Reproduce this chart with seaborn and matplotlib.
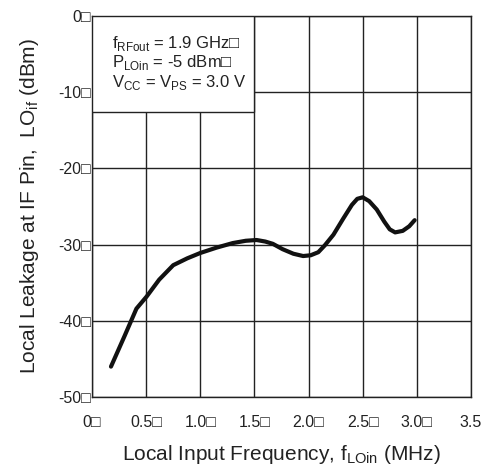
import pandas as pd
import matplotlib.pyplot as plt
import seaborn as sns
from matplotlib.patches import Rectangle

# LO leakage at IF pin vs local input frequency
freq = [0.175, 0.30, 0.41, 0.505, 0.62, 0.75, 0.88, 1.0, 1.15, 1.3, 1.42, 1.52,
        1.6, 1.67, 1.76, 1.86, 1.95, 2.02, 2.09, 2.15, 2.23, 2.32, 2.40, 2.45,
        2.50, 2.56, 2.63, 2.70, 2.75, 2.80, 2.87, 2.93, 2.98]
leak = [-46.0, -42.0, -38.4, -36.8, -34.6, -32.7, -31.8, -31.1, -30.4, -29.8, -29.5, -29.4,
        -29.6, -29.9, -30.6, -31.2, -31.5, -31.4, -31.0, -30.1, -28.7, -26.6, -24.8, -24.0,
        -23.8, -24.3, -25.4, -27.0, -28.0, -28.4, -28.2, -27.6, -26.8]

BOX = "\u25a1"
xticks = [0, 0.5, 1.0, 1.5, 2.0, 2.5, 3.0, 3.5]
xticklabels = ["0" + BOX, "0.5" + BOX, "1.0" + BOX, "1.5" + BOX, "2.0" + BOX,
               "2.5" + BOX, "3.0" + BOX, "3.5"]
yticks = [0, -10, -20, -30, -40, -50]
yticklabels = [str(v) + BOX for v in yticks]

conditions = [r"f$_\mathregular{RFout}$ = 1.9 GHz" + BOX,
              r"P$_\mathregular{LOin}$ = -5 dBm" + BOX,
              r"V$_\mathregular{CC}$ = V$_\mathregular{PS}$ = 3.0 V"]


def main():
    df = pd.DataFrame({"freq": freq, "leak": leak})

    sns.set_theme(style="white")
    plt.rcParams["font.family"] = ["Liberation Sans", "DejaVu Sans"]
    plt.rcParams["mathtext.fontset"] = "custom"
    plt.rcParams["mathtext.rm"] = "Liberation Sans"

    fig = plt.figure(figsize=(4.87, 4.65), dpi=100)
    ax = fig.add_axes([0.189, 0.146, 0.778, 0.820])

    sns.lineplot(data=df, x="freq", y="leak", color="#111111", linewidth=3.0, ax=ax, zorder=4)

    ax.set_xlim(0, 3.5)
    ax.set_ylim(-50, 0)
    ax.set_xticks(xticks)
    ax.set_xticklabels(xticklabels)
    ax.set_yticks(yticks)
    ax.set_yticklabels(yticklabels)
    ax.tick_params(axis="both", length=0, labelsize=11.5, colors="#222222")
    ax.tick_params(axis="x", pad=13)
    ax.tick_params(axis="y", pad=1)
    ax.grid(True, color="#222222", linewidth=1.0)
    for s in ax.spines.values():
        s.set_visible(True)
        s.set_color("#222222")
        s.set_linewidth(1.0)

    # condition box in the upper left corner, covering the grid
    ax.add_patch(Rectangle((0, -12.6), 1.5, 12.6, facecolor="white",
                           edgecolor="#222222", linewidth=1.0, zorder=3))
    for i, t in enumerate(conditions):
        ax.text(0.185, -3.6 - 2.55 * i, t, fontsize=12, va="center", ha="left",
                color="#222222", zorder=5)

    ax.set_xlabel(r"Local Input Frequency, f$_\mathregular{LOin}$ (MHz)", fontsize=15,
                  color="#222222", labelpad=9)
    ax.set_ylabel(r"Local Leakage at IF Pin,  LO$_\mathregular{if}$ (dBm)", fontsize=15,
                  color="#222222", labelpad=12)

    fig.savefig("out.png", dpi=100)


if __name__ == "__main__":
    main()
